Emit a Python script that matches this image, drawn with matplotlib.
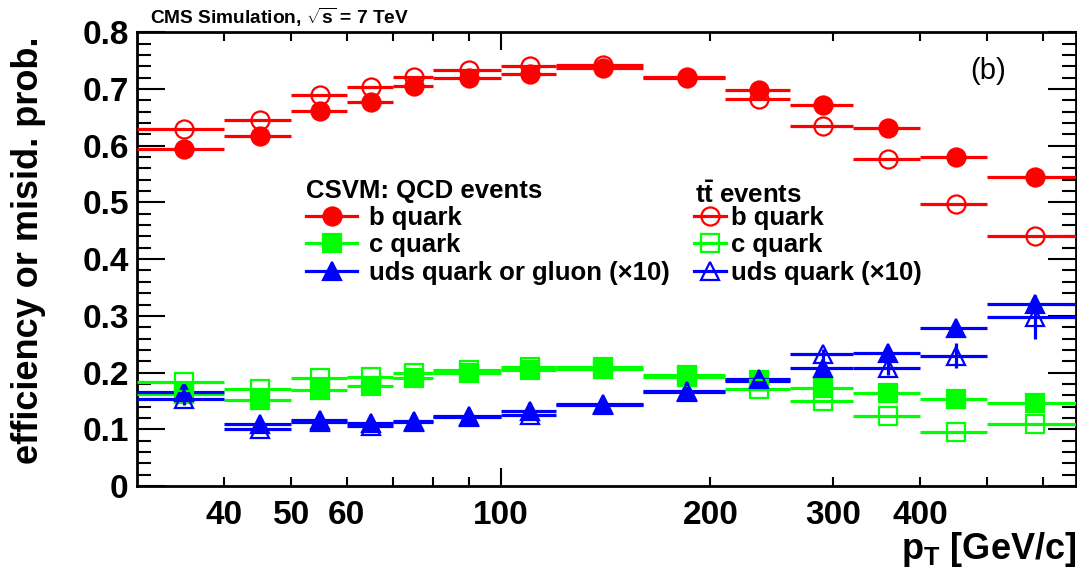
import numpy as np
import matplotlib
matplotlib.use("Agg")
import matplotlib.pyplot as plt
from matplotlib.lines import Line2D

plt.rcParams['font.family'] = ['Liberation Sans', 'DejaVu Sans']
plt.rcParams['font.weight'] = 'bold'
plt.rcParams['mathtext.fontset'] = 'custom'
plt.rcParams['mathtext.rm'] = 'Liberation Sans:bold'
plt.rcParams['mathtext.bf'] = 'Liberation Sans:bold'
plt.rcParams['mathtext.it'] = 'Liberation Sans:bold'

# pT bins [GeV/c]
edges = [30, 40, 50, 60, 70, 80, 100, 120, 160, 210, 260, 320, 400, 500, 670]

# CSVM efficiencies, QCD events
qcd_b = [0.594, 0.617, 0.661, 0.677, 0.705, 0.720, 0.727, 0.737, 0.720, 0.698, 0.671, 0.631, 0.581, 0.544]
qcd_c = [0.162, 0.151, 0.170, 0.176, 0.191, 0.199, 0.204, 0.206, 0.195, 0.187, 0.173, 0.164, 0.154, 0.147]
qcd_uds = [0.166, 0.109, 0.116, 0.111, 0.115, 0.123, 0.132, 0.144, 0.167, 0.186, 0.208, 0.235, 0.278, 0.321]

# ttbar events
tt_b = [0.630, 0.645, 0.689, 0.704, 0.721, 0.734, 0.740, 0.742, 0.721, 0.682, 0.635, 0.577, 0.497, 0.441]
tt_c = [0.183, 0.171, 0.190, 0.192, 0.200, 0.205, 0.209, 0.209, 0.192, 0.171, 0.149, 0.123, 0.096, 0.110]
tt_uds = [0.154, 0.100, 0.113, 0.106, 0.113, 0.122, 0.125, 0.142, 0.165, 0.188, 0.232, 0.208, 0.230, 0.298]
tt_uds_err = [0.012, 0.005, 0.005, 0.005, 0.005, 0.005, 0.006, 0.006, 0.006, 0.008, 0.010, 0.012, 0.022, 0.039]

lo = np.array(edges[:-1], float)
hi = np.array(edges[1:], float)
xc = (lo + hi) / 2
xerr = [xc - lo, hi - xc]

RED, GREEN, BLUE = '#ff0000', '#00ff00', '#0000ff'
ms = 13
elw = 2.3

fig = plt.figure(figsize=(10.77, 5.70), dpi=100)
ax = fig.add_axes([0.1272, 0.1474, 0.8718, 0.7959])


def draw(y, color, marker, filled, yerr=None):
    ax.errorbar(xc, y, xerr=xerr, yerr=yerr, fmt=marker, color=color, ms=ms,
                mfc=color if filled else 'none', mec=color, mew=1.6,
                elinewidth=elw, capsize=0, zorder=3 if filled else 4)


draw(qcd_b, RED, 'o', True)
draw(tt_b, RED, 'o', False)
draw(qcd_c, GREEN, 's', True)
draw(tt_c, GREEN, 's', False)
draw(qcd_uds, BLUE, '^', True)
draw(tt_uds, BLUE, '^', False, yerr=tt_uds_err)

ax.set_xscale('log')
ax.set_xlim(30, 670)
ax.set_ylim(0, 0.8)

ax.set_xticks([100], ['100'])
minor = [40, 50, 60, 70, 80, 90, 200, 300, 400, 500, 600]
minor_lab = ['40', '50', '60', '', '', '', '200', '300', '400', '', '']
ax.set_xticks(minor, minor_lab, minor=True)
ax.set_yticks(np.arange(0, 0.81, 0.1), ['0', '0.1', '0.2', '0.3', '0.4', '0.5', '0.6', '0.7', '0.8'])
ax.set_yticks(np.arange(0, 0.81, 0.02), minor=True)

ax.tick_params(axis='x', which='major', direction='in', length=13, width=1.5,
               top=True, labelsize=24, pad=10)
ax.tick_params(axis='x', which='minor', direction='in', length=6.5, width=1.5,
               top=True, labelsize=24, pad=10)
ax.tick_params(axis='y', which='major', direction='in', length=20, width=1.5,
               right=True, labelsize=24, pad=6)
ax.tick_params(axis='y', which='minor', direction='in', length=10, width=1.5,
               right=True)
for s in ax.spines.values():
    s.set_linewidth(2)

ax.set_ylabel('efficiency or misid. prob.', fontsize=26, fontweight='bold')
ax.yaxis.set_label_coords(-0.097, 0.52)
ax.set_xlabel(r'$\mathbf{p_T}$ [GeV/c]', fontsize=26, fontweight='bold')
ax.xaxis.set_label_coords(1.0, -0.097)
ax.xaxis.label.set_horizontalalignment('right')

fig.text(0.139, 0.97, r'CMS Simulation, $\sqrt{s}$ = 7 TeV', fontsize=13.8,
         fontweight='bold', va='center', ha='left')
ax.text(0.887, 0.915, '(b)', transform=ax.transAxes, fontsize=21,
        fontweight='normal', ha='left', va='center')


def handle(color, marker, filled):
    return Line2D([], [], color=color, lw=elw, marker=marker, ms=ms,
                  mfc=color if filled else 'none', mec=color, mew=1.6)


leg_y = 0.676

h1 = [handle(RED, 'o', True), handle(GREEN, 's', True), handle(BLUE, '^', True)]
l1 = ['b quark', 'c quark', 'uds quark or gluon (\u00d710)']
leg1 = ax.legend(h1, l1, loc='upper left', bbox_to_anchor=(0.18, leg_y),
                 frameon=False, fontsize=18.5, title='CSVM: QCD events',
                 title_fontproperties={'size': 18.5, 'weight': 'bold'},
                 alignment='left', handlelength=2.0, handletextpad=0.45,
                 labelspacing=0.12, borderpad=0, borderaxespad=0, numpoints=1)
ax.add_artist(leg1)

h2 = [handle(RED, 'o', False), handle(GREEN, 's', False), handle(BLUE, '^', False)]
l2 = ['b quark', 'c quark', 'uds quark (\u00d710)']
leg2 = ax.legend(h2, l2, loc='upper left', bbox_to_anchor=(0.593, leg_y),
                 frameon=False, fontsize=18.5, title=' ',
                 title_fontproperties={'size': 18.5, 'weight': 'bold'},
                 alignment='left', handlelength=1.25, handletextpad=0.2,
                 labelspacing=0.12, borderpad=0, borderaxespad=0, numpoints=1)
ax.text(0.594, 0.624, r'$\mathbf{t\bar{t}}$ events', transform=ax.transAxes,
        fontsize=18.5, fontweight='bold', ha='left', va='baseline')

fig.savefig('out.png', dpi=100)
